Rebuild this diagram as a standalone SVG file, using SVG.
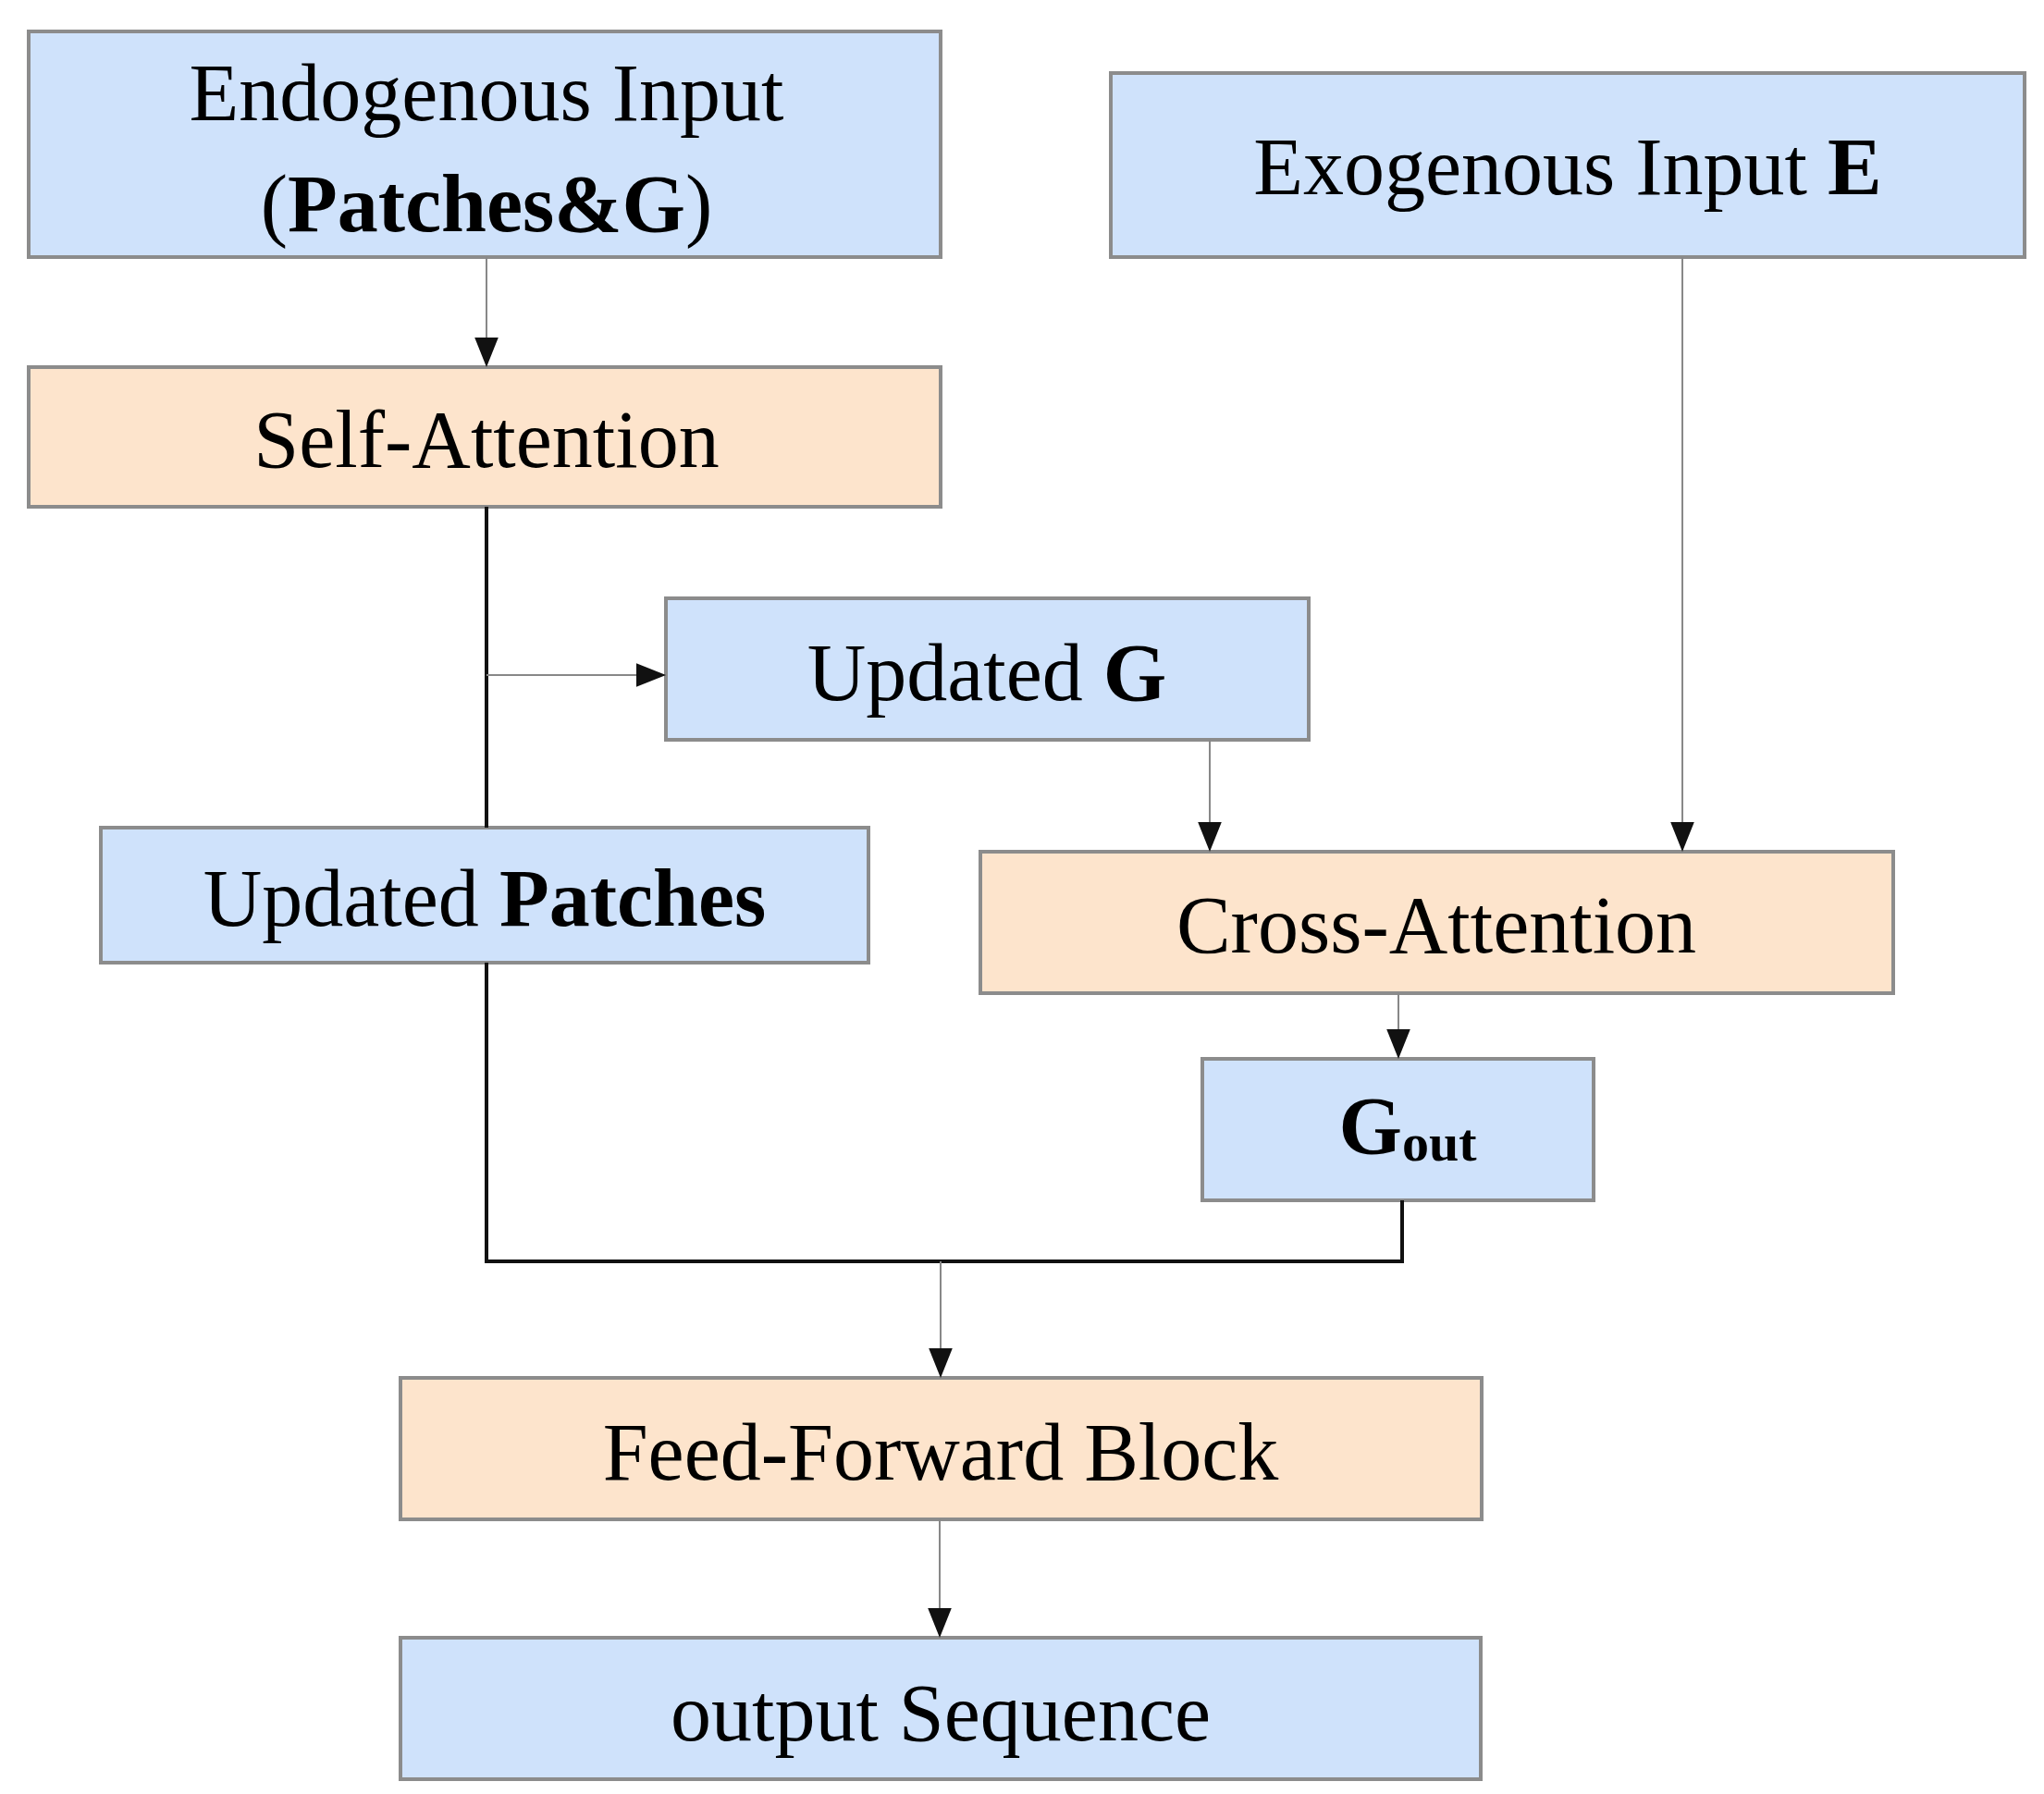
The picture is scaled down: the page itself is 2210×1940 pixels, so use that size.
<svg xmlns="http://www.w3.org/2000/svg" width="2210" height="1940" viewBox="0 0 2210 1940">
<style>
.b{fill:#cfe2fb;stroke:#8c8c8c;stroke-width:4}
.o{fill:#fde4cc;stroke:#8c8c8c;stroke-width:4}
text{font-family:"Liberation Serif",serif;font-size:88px;fill:#000;text-anchor:middle}
.bd{font-weight:bold}
.t{stroke:#888;stroke-width:2;fill:none}
.k{stroke:#111;stroke-width:4;fill:none}
</style>
<defs><marker id="a" markerWidth="12" markerHeight="12" refX="10" refY="6" orient="auto" markerUnits="userSpaceOnUse"><path d="M0,0 L12,6 L0,12 z" fill="#111"/></marker>
<marker id="m" viewBox="0 0 10 10" markerWidth="32" markerHeight="32" refX="10" refY="5" orient="auto" markerUnits="userSpaceOnUse"><path d="M0,1 L10,5 L0,9 z" fill="#111"/></marker></defs>
<g id="endo"><rect class="b" x="31" y="34" width="986" height="244"/><text x="526" y="130">Endogenous Input</text><text x="526" y="250">(<tspan class="bd">Patches&amp;G</tspan>)</text></g>
<g id="exo"><rect class="b" x="1201" y="79" width="988" height="199"/><text x="1695" y="210">Exogenous Input <tspan class="bd">E</tspan></text></g>
<g id="self"><rect class="o" x="31" y="397" width="986" height="151"/><text x="526" y="505">Self-Attention</text></g>
<g id="ug"><rect class="b" x="720" y="647" width="695" height="153"/><text x="1067" y="757">Updated <tspan class="bd">G</tspan></text></g>
<g id="up"><rect class="b" x="109" y="895" width="830" height="146"/><text x="524" y="1001">Updated  <tspan class="bd">Patches</tspan></text></g>
<g id="cross"><rect class="o" x="1060" y="921" width="987" height="153"/><text x="1553" y="1030">Cross-Attention</text></g>
<g id="gout"><rect class="b" x="1300" y="1145" width="423" height="153"/><text x="1522" y="1247" class="bd">G<tspan font-size="58" dy="8">out</tspan></text></g>
<g id="ff"><rect class="o" x="433" y="1490" width="1169" height="153"/><text x="1017" y="1600">Feed-Forward Block</text></g>
<g id="out"><rect class="b" x="433" y="1771" width="1168" height="153"/><text x="1017" y="1882">output Sequence</text></g>
<g id="connectors">
<line class="t" x1="526" y1="278" x2="526" y2="397" marker-end="url(#m)"/>
<line class="k" x1="526" y1="548" x2="526" y2="895"/>
<line class="t" x1="526" y1="730" x2="720" y2="730" marker-end="url(#m)"/>
<line class="t" x1="1308" y1="800" x2="1308" y2="921" marker-end="url(#m)"/>
<line class="t" x1="1819" y1="278" x2="1819" y2="921" marker-end="url(#m)"/>
<line class="t" x1="1512" y1="1074" x2="1512" y2="1145" marker-end="url(#m)"/>
<polyline class="k" points="526,1041 526,1364 1516,1364 1516,1298"/>
<line class="t" x1="1017" y1="1364" x2="1017" y2="1490" marker-end="url(#m)"/>
<line class="t" x1="1016" y1="1643" x2="1016" y2="1771" marker-end="url(#m)"/>
</g>
</svg>
